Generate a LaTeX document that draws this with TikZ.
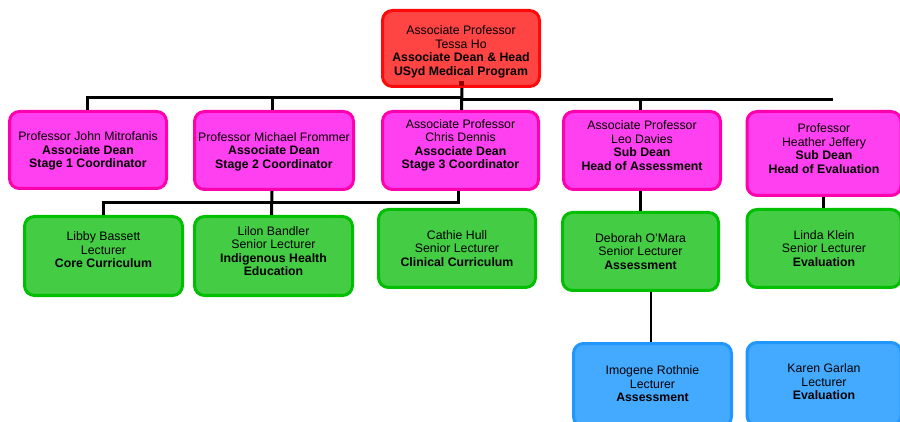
\documentclass[tikz,border=0pt]{standalone}
\usepackage{fontspec}
\setmainfont{Liberation Sans}
\begin{document}
\begin{tikzpicture}[x=1pt,y=-1pt,
  every node/.style={font=\fontsize{12.3}{13.5}\selectfont},
  boxbase/.style={rounded corners=10pt, line width=3pt, inner sep=0pt},
  redbox/.style={boxbase, draw=redline, fill=redfill},
  magbox/.style={boxbase, draw=magline, fill=magfill},
  grnbox/.style={boxbase, draw=grnline, fill=grnfill},
  blubox/.style={boxbase, draw=bluline, fill=blufill},
  txt/.style={align=center, inner sep=0pt},
  bus/.style={line width=3pt, black},
  thinbus/.style={line width=2pt, black}
]
\definecolor{redfill}{RGB}{255,68,68}
\definecolor{redline}{RGB}{255,10,10}
\definecolor{magfill}{RGB}{255,64,240}
\definecolor{magline}{RGB}{255,0,175}
\definecolor{grnfill}{RGB}{68,204,68}
\definecolor{grnline}{RGB}{0,190,0}
\definecolor{blufill}{RGB}{68,170,255}
\definecolor{bluline}{RGB}{34,150,255}
\definecolor{darkred}{RGB}{150,0,0}

\useasboundingbox (0,0) rectangle (900,422);
\fill[white] (0,0) rectangle (900,422);
\clip (0,0) rectangle (900,422);

% coordinates of the buses
\coordinate (busA) at (0,98);
\coordinate (busB) at (0,100);
\coordinate (busC) at (0,203);
\coordinate (busEnd) at (833,100);

% boxes
\node[redbox, minimum width=157pt, minimum height=76pt] (dean) at (461,48.5) {};
\node[magbox, minimum width=157pt, minimum height=77pt] (s1) at (88,150) {};
\node[magbox, minimum width=159pt, minimum height=78pt] (s2) at (274,150.5) {};
\node[magbox, minimum width=156pt, minimum height=78pt] (s3) at (460.5,150.5) {};
\node[magbox, minimum width=157pt, minimum height=78pt] (s4) at (642,150.5) {};
\node[magbox, minimum width=154pt, minimum height=84pt] (s5) at (824,153.5) {};
\node[grnbox, minimum width=158pt, minimum height=79pt] (g1) at (103.5,256) {};
\node[grnbox, minimum width=158pt, minimum height=79pt] (g2) at (273.5,256) {};
\node[grnbox, minimum width=157pt, minimum height=78pt] (g3) at (457,248.5) {};
\node[grnbox, minimum width=156pt, minimum height=78pt] (g4) at (640.5,251.5) {};
\node[grnbox, minimum width=154pt, minimum height=78pt] (g5) at (824,248.5) {};
\node[blubox, minimum width=158pt, minimum height=83pt] (b1) at (652.5,385) {};
\node[blubox, minimum width=154pt, minimum height=83pt] (b2) at (824,384) {};

% texts
\node[txt] (deant) at ([yshift=-3.5pt]dean.center) {Associate Professor\\Tessa Ho\\\textbf{Associate Dean \& Head}\\\textbf{USyd Medical Program}};
\node[txt] (s1t) at ([yshift=-1pt]s1.center) {Professor John Mitrofanis\\\textbf{Associate Dean}\\\textbf{Stage 1 Coordinator}};
\node[txt] (s2t) at ([yshift=-1pt]s2.center) {Professor Michael Frommer\\\textbf{Associate Dean}\\\textbf{Stage 2 Coordinator}};
\node[txt] (s3t) at ([yshift=5pt]s3.center) {Associate Professor\\Chris Dennis\\\textbf{Associate Dean}\\\textbf{Stage 3 Coordinator}};
\node[txt] (s4t) at ([yshift=5pt]s4.center) {Associate Professor\\Leo Davies\\\textbf{Sub Dean}\\\textbf{Head of Assessment}};
\node[txt] (s5t) at ([yshift=5pt]s5.center) {Professor\\Heather Jeffery\\\textbf{Sub Dean}\\\textbf{Head of Evaluation}};
\node[txt] (g1t) at ([yshift=6pt]g1.center) {Libby Bassett\\Lecturer\\\textbf{Core Curriculum}};
\node[txt] (g2t) at ([yshift=5pt]g2.center) {Lilon Bandler\\Senior Lecturer\\\textbf{Indigenous Health}\\\textbf{Education}};
\node[txt] (g3t) at (g3.center) {Cathie Hull\\Senior Lecturer\\\textbf{Clinical Curriculum}};
\node[txt] (g4t) at (g4.center) {Deborah O'Mara\\Senior Lecturer\\\textbf{Assessment}};
\node[txt] (g5t) at (g5.center) {Linda Klein\\Senior Lecturer\\\textbf{Evaluation}};
\node[txt] (b1t) at ([yshift=1pt]b1.center) {Imogene Rothnie\\Lecturer\\\textbf{Assessment}};
\node[txt] (b2t) at ([yshift=2pt]b2.center) {Karen Garlan\\Lecturer\\\textbf{Evaluation}};

% small marker at the start of the top connector
\fill[darkred] ([xshift=-2.5pt,yshift=2pt]dean.south) rectangle ([xshift=2.5pt,yshift=7pt]dean.south);

% connectors, upper level
\draw[bus] ([xshift=1pt]dean.south) -- ([xshift=1pt]s3.north);
\draw[bus] ([xshift=-1pt]s1.north) -- ([xshift=-1pt]s1.north |- busA) -- ([xshift=2pt]dean.south |- busA);
\draw[bus] ([xshift=-2pt]s2.north) -- ([xshift=-2pt]s2.north |- busA);
\draw[bus] ([xshift=1pt]dean.south |- busB) -- (busEnd);
\draw[bus] ([xshift=-2pt]s4.north) -- ([xshift=-2pt]s4.north |- busB);

% connectors, lower level
\draw[bus] ([xshift=-2pt]s2.south) -- ([xshift=-2pt]g2.north);
\draw[bus] ([xshift=-2pt]s3.south) -- ([xshift=-2pt]s3.south |- busC) -- (g1.north |- busC) -- (g1.north);
\draw[bus] ([xshift=-2pt]s4.south) -- ([xshift=-2pt]s4.south |- g4.north);
\draw[bus] ([xshift=-1pt]s5.south) -- ([xshift=-1pt]g5.north);
\draw[thinbus] ([xshift=-2pt]b1.north) -- ([xshift=-2pt]b1.north |- g4.south);
\end{tikzpicture}
\end{document}
